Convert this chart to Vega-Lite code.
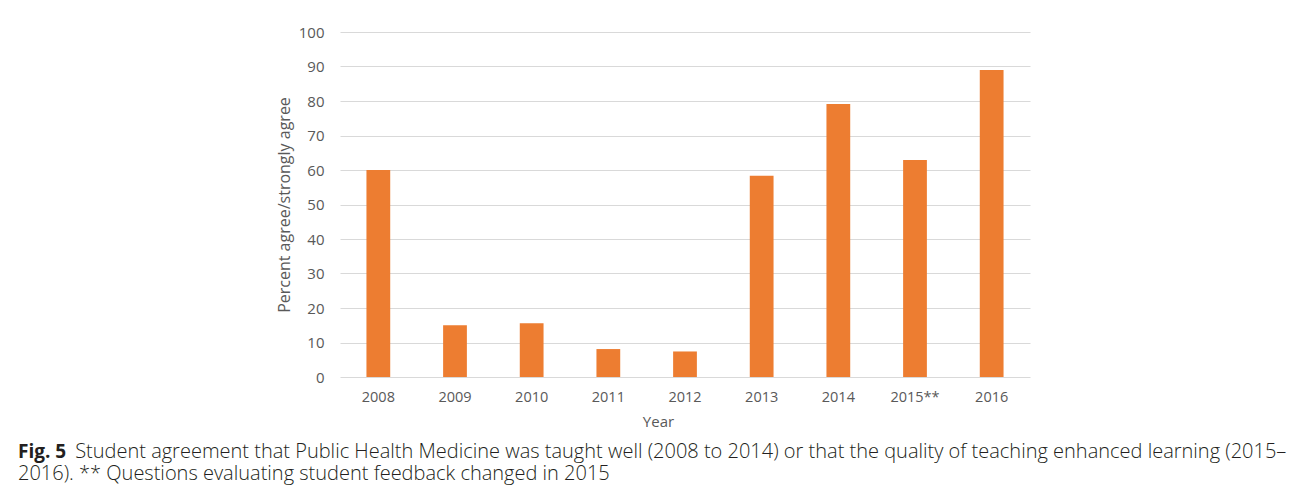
{
  "$schema": "https://vega.github.io/schema/vega-lite/v6.json",
  "width": 690,
  "height": 345,
  "autosize": {"type": "none"},
  "padding": {"left": 340, "top": 32, "right": 262, "bottom": 118},
  "background": "white",
  "data": {"values": [
    {"Year": "2008", "Percent": 60},
    {"Year": "2009", "Percent": 15},
    {"Year": "2010", "Percent": 15.6},
    {"Year": "2011", "Percent": 8.1},
    {"Year": "2012", "Percent": 7.4},
    {"Year": "2013", "Percent": 58.3},
    {"Year": "2014", "Percent": 79.1},
    {"Year": "2015**", "Percent": 62.9},
    {"Year": "2016", "Percent": 89}
  ]},
  "title": {
    "text": "Fig. 5",
    "subtitle": [
      "\u200b\u00a0\u00a0\u00a0\u00a0\u00a0\u00a0\u00a0\u00a0\u00a0\u00a0\u00a0Student agreement that Public Health Medicine was taught well (2008 to 2014) or that the quality of teaching enhanced learning (2015–",
      "2016). ** Questions evaluating student feedback changed in 2015"
    ],
    "orient": "bottom",
    "anchor": "start",
    "frame": "group",
    "dx": -322,
    "offset": 14,
    "font": "Open Sans",
    "fontSize": 19,
    "fontWeight": "bold",
    "color": "#231f20",
    "lineHeight": 22,
    "subtitleFont": "Open Sans",
    "subtitleFontSize": 20,
    "subtitleFontWeight": 300,
    "subtitleColor": "#231f20",
    "subtitleLineHeight": 22,
    "subtitlePadding": -20
  },
  "mark": {"type": "bar", "color": "#ED7D31"},
  "encoding": {
    "x": {
      "field": "Year",
      "type": "nominal",
      "sort": null,
      "scale": {"paddingInner": 0.69, "paddingOuter": 0.345},
      "axis": {
        "title": "Year",
        "labelAngle": 0,
        "domain": false,
        "ticks": false,
        "labelPadding": 13,
        "labelFont": "Open Sans",
        "labelFontSize": 14.5,
        "labelColor": "#595959",
        "titleFont": "Open Sans",
        "titleFontSize": 15,
        "titleFontWeight": "normal",
        "titleColor": "#595959",
        "titleX": 318,
        "titleY": 49,
        "titleAlign": "center",
        "titleBaseline": "alphabetic"
      }
    },
    "y": {
      "field": "Percent",
      "type": "quantitative",
      "scale": {"domain": [0, 100], "nice": false},
      "axis": {
        "title": "Percent agree/strongly agree",
        "values": [0, 10, 20, 30, 40, 50, 60, 70, 80, 90, 100],
        "domain": false,
        "ticks": false,
        "labelPadding": 16,
        "labelFont": "Open Sans",
        "labelFontSize": 15,
        "labelColor": "#595959",
        "titleFont": "Open Sans",
        "titleFontSize": 16,
        "titleFontWeight": "normal",
        "titleColor": "#595959",
        "titlePadding": 6,
        "gridColor": "#d9d9d9",
        "gridWidth": 1
      }
    }
  },
  "config": {"view": {"stroke": null}}
}
